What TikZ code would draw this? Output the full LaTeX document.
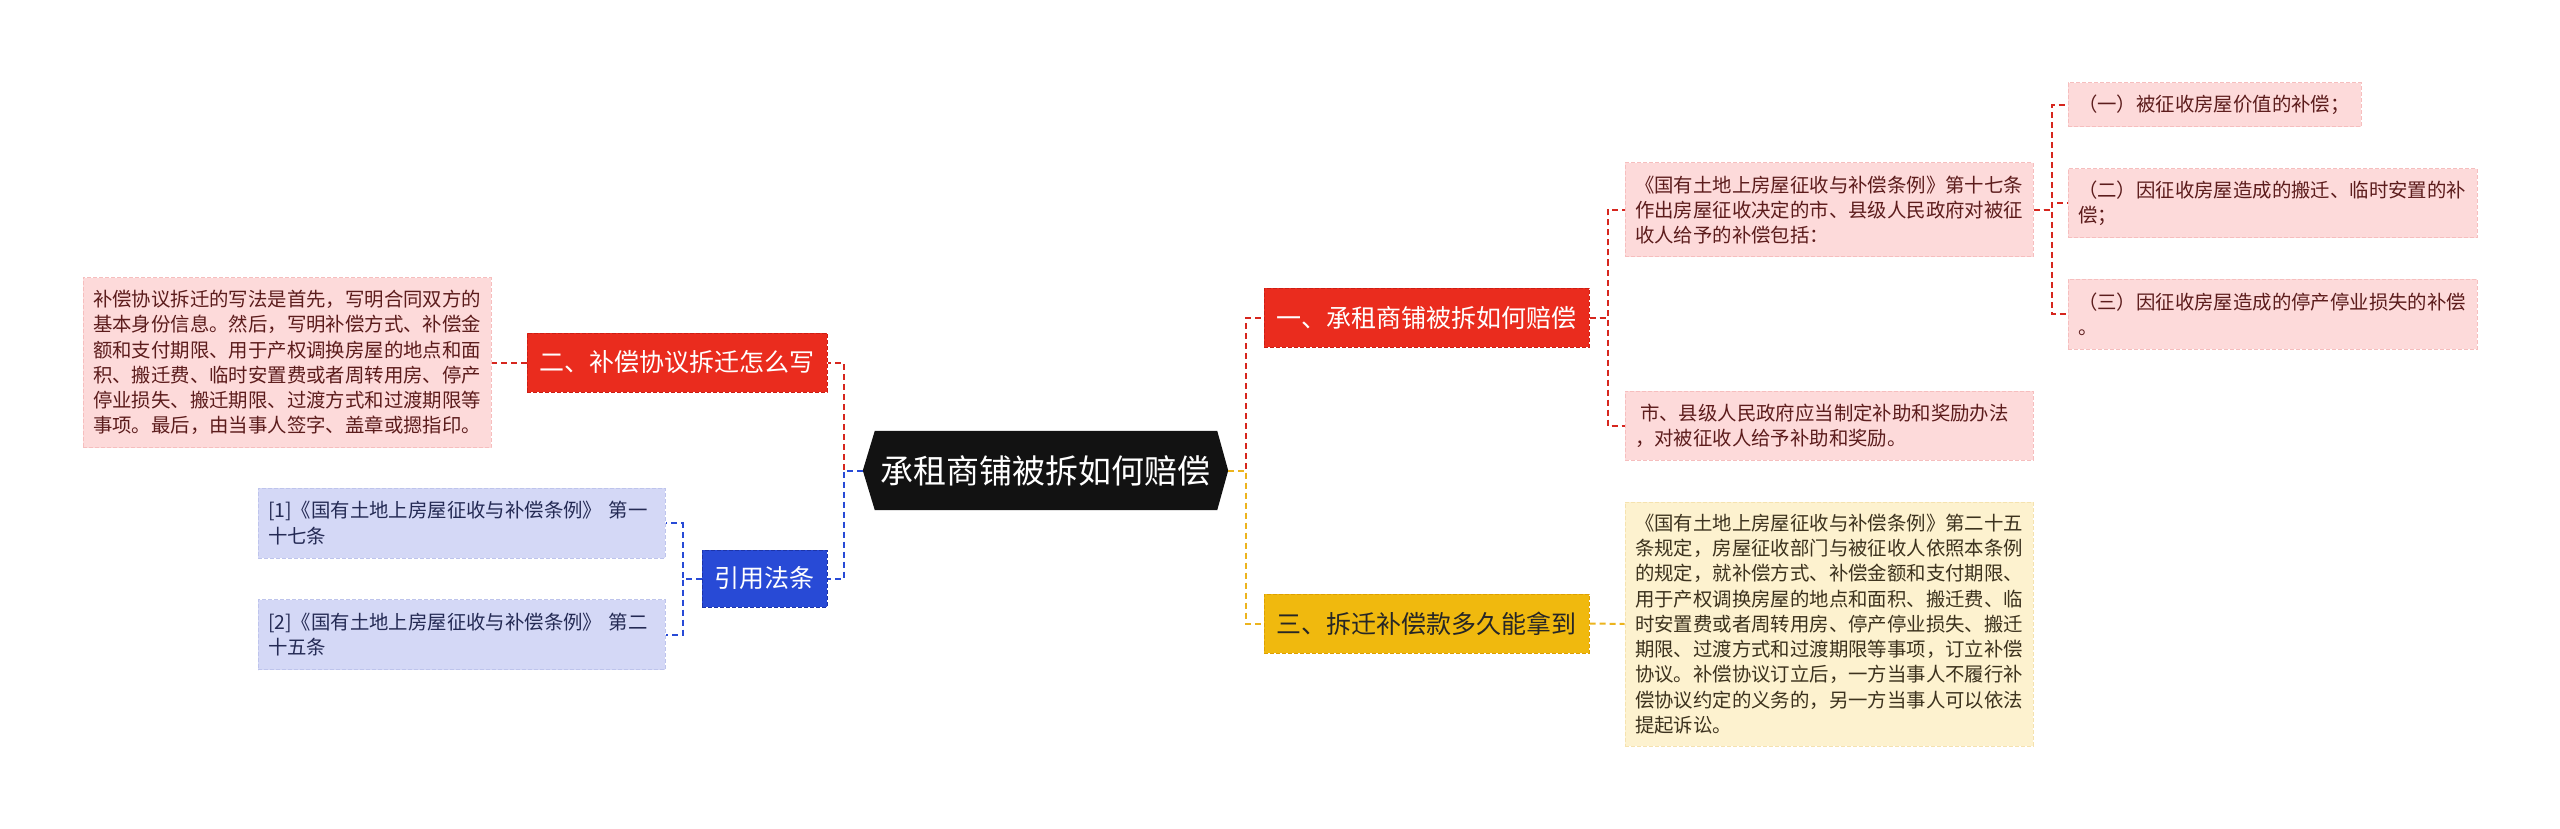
\documentclass[tikz,border=0pt]{standalone}
\usepackage{fontspec}
\setmainfont{Noto Sans CJK SC}
\usetikzlibrary{calc,backgrounds}
\definecolor{redfill}{RGB}{234,44,30}
\definecolor{redborder}{RGB}{205,30,20}
\definecolor{redline}{RGB}{214,38,30}
\definecolor{pinkfill}{RGB}{253,218,218}
\definecolor{pinkborder}{RGB}{246,190,190}
\definecolor{pinktext}{RGB}{92,28,28}
\definecolor{bluefill}{RGB}{40,74,214}
\definecolor{blueborder}{RGB}{28,52,170}
\definecolor{lavfill}{RGB}{212,216,246}
\definecolor{lavborder}{RGB}{190,196,236}
\definecolor{navytext}{RGB}{36,42,84}
\definecolor{yelfill}{RGB}{240,185,14}
\definecolor{yelborder}{RGB}{222,160,0}
\definecolor{yelline}{RGB}{236,180,30}
\definecolor{creamfill}{RGB}{253,242,207}
\definecolor{creamborder}{RGB}{245,226,175}
\definecolor{browntext}{RGB}{60,50,30}
\begin{document}
\begin{tikzpicture}[x=1pt,y=-1pt,
  topic/.style={inner sep=0pt, minimum height=59pt, line width=1pt,
    dash pattern=on 4pt off 2pt, align=center,
    font=\fontsize{25}{30}\selectfont},
  redtopic/.style={topic, fill=redfill, draw=redborder, text=white},
  bluetopic/.style={topic, fill=bluefill, draw=blueborder, text=white},
  yeltopic/.style={topic, fill=yelfill, draw=yelborder, text=black!85},
  detail/.style={inner xsep=10pt, inner ysep=0pt, align=left, line width=1pt,
    dash pattern=on 4pt off 2pt, font=\fontsize{19.4}{25.3}\selectfont},
  pinkbox/.style={detail, fill=pinkfill, draw=pinkborder, text=pinktext},
  lavbox/.style={detail, fill=lavfill, draw=lavborder, text=navytext},
  creambox/.style={detail, fill=creamfill, draw=creamborder, text=browntext},
  conn/.style={line width=2pt, dash pattern=on 6pt off 4pt},
  redc/.style={conn, draw=redline},
  bluec/.style={conn, draw=bluefill},
  yelc/.style={conn, draw=yelline}
]
\useasboundingbox (0,0) rectangle (2560,829);

% central
\node[minimum width=365pt, minimum height=79pt, inner sep=0pt, text=white,
  font=\fontsize{33}{38}\selectfont] (c) at (1045.5,470.5) {承租商铺被拆如何赔偿};
\begin{scope}[on background layer]
\fill[white] (0,0) rectangle (2560,829);
\fill[black!93] (c.west) -- ($(c.north west)+(12,0)$) -- ($(c.north east)+(-11,0)$)
  -- (c.east) -- ($(c.south east)+(-11,0)$) -- ($(c.south west)+(12,0)$) -- cycle;
\end{scope}

% main topics
\node[redtopic, minimum width=325pt] (n1) at (1426.5,317.5) {一、承租商铺被拆如何赔偿};
\node[redtopic, minimum width=300pt] (n2) at (677,362.5) {二、补偿协议拆迁怎么写};
\node[yeltopic, minimum width=325pt] (n3) at (1426.5,623.5) {三、拆迁补偿款多久能拿到};
\node[bluetopic, minimum width=125pt, minimum height=57pt] (nref) at (764.5,578.5) {引用法条};

% left details
\node[pinkbox, text width=388pt, minimum height=170pt] (lbox) at (287,362.5) {补偿协议拆迁的写法是首先，写明合同双方的\\基本身份信息。然后，写明补偿方式、补偿金\\额和支付期限、用于产权调换房屋的地点和面\\积、搬迁费、临时安置费或者周转用房、停产\\停业损失、搬迁期限、过渡方式和过渡期限等\\事项。最后，由当事人签字、盖章或摁指印。};
\node[lavbox, text width=387pt, minimum height=70pt] (r1) at (461.5,523) {[1]《国有土地上房屋征收与补偿条例》 第一\\十七条};
\node[lavbox, text width=387pt, minimum height=70pt] (r2) at (461.5,634.5) {[2]《国有土地上房屋征收与补偿条例》 第二\\十五条};

% right details
\node[pinkbox, text width=388pt, minimum height=94pt] (b1) at (1829,210) {《国有土地上房屋征收与补偿条例》第十七条\\作出房屋征收决定的市、县级人民政府对被征\\收人给予的补偿包括：};
\node[pinkbox, text width=388pt, minimum height=69pt] (b2) at (1829,425.5) {\hspace*{5pt}市、县级人民政府应当制定补助和奖励办法\\，对被征收人给予补助和奖励。};
\node[creambox, text width=388pt, minimum height=244pt] (y1) at (1829,624) {《国有土地上房屋征收与补偿条例》第二十五\\条规定，房屋征收部门与被征收人依照本条例\\的规定，就补偿方式、补偿金额和支付期限、\\用于产权调换房屋的地点和面积、搬迁费、临\\时安置费或者周转用房、停产停业损失、搬迁\\期限、过渡方式和过渡期限等事项，订立补偿\\协议。补偿协议订立后，一方当事人不履行补\\偿协议约定的义务的，另一方当事人可以依法\\提起诉讼。};
\node[pinkbox, text width=273pt, minimum height=44pt] (s1) at (2214.5,105) {（一）被征收房屋价值的补偿；};
\node[pinkbox, text width=389pt, minimum height=69pt] (s2) at (2272.5,203.5) {（二）因征收房屋造成的搬迁、临时安置的补\\偿；};
\node[pinkbox, text width=389pt, minimum height=70pt] (s3) at (2272.5,314) {（三）因征收房屋造成的停产停业损失的补偿\\。};

% connectors
\draw[redc] (c.west) -- ++(-19,0) |- (n2.east);
\draw[bluec] (c.west) -- ++(-19,0) |- (nref.east);
\draw[redc] (n2.west) -- (lbox.east);
\draw[bluec] (nref.west) -- ++(-19,0) |- (r1.east);
\draw[bluec] (nref.west) -- ++(-19,0) |- (r2.east);
\draw[redc] (c.east) -- ++(18,0) |- (n1.west);
\draw[yelc] (c.east) -- ++(18,0) |- (n3.west);
\draw[redc] (n1.east) -- ++(18,0) |- (b1.west);
\draw[redc] (n1.east) -- ++(18,0) |- (b2.west);
\draw[yelc] (n3.east) -- (y1.west);
\draw[redc] (b1.east) -- ++(18,0) |- (s1.west);
\draw[redc] (b1.east) -- ++(18,0) |- (s2.west);
\draw[redc] (b1.east) -- ++(18,0) |- (s3.west);
\end{tikzpicture}
\end{document}
